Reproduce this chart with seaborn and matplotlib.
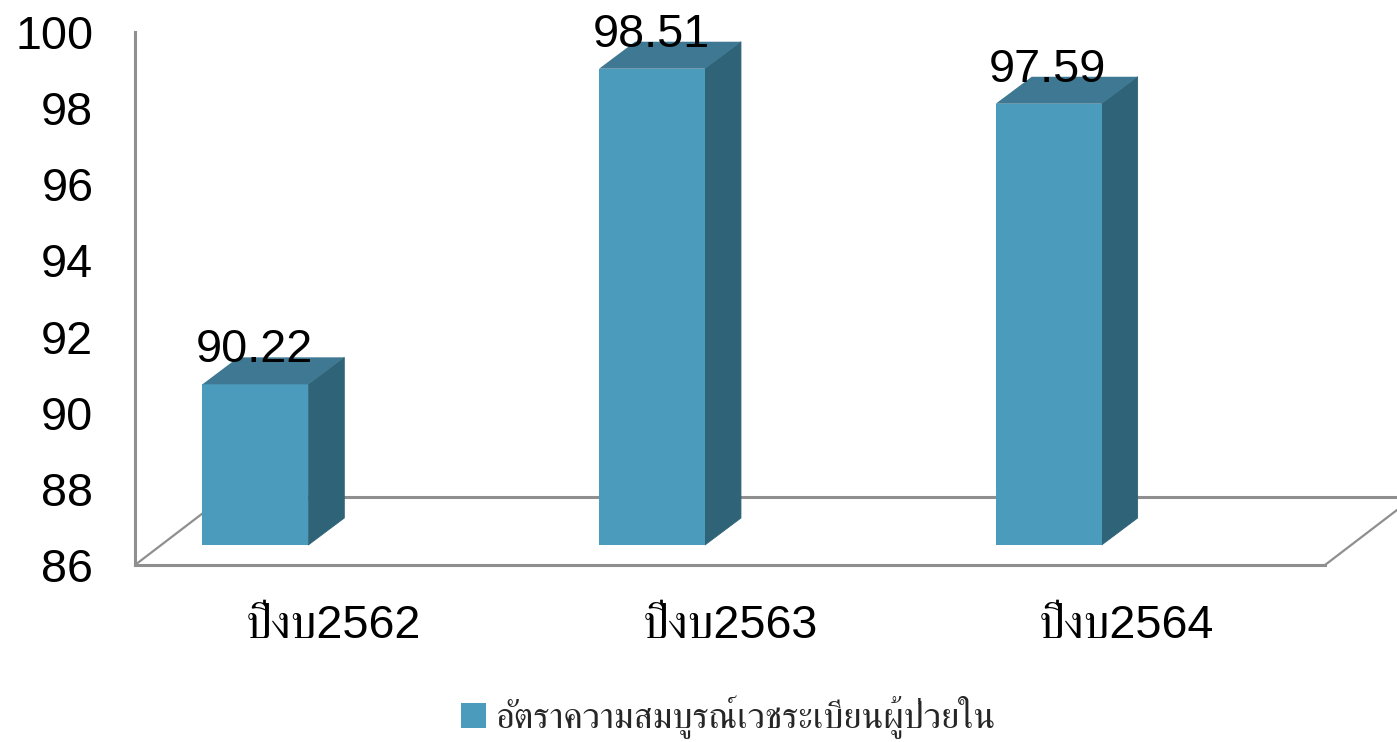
import matplotlib
matplotlib.use("Agg")
import matplotlib.pyplot as plt
from matplotlib.transforms import Affine2D
import pandas as pd
import seaborn as sns

categories = ["ปีงบ2562", "ปีงบ2563", "ปีงบ2564"]
values = [90.22, 98.51, 97.59]
value_labels = ["90.22", "98.51", "97.59"]
series_name = "อัตราความสมบูรณ์เวชระเบียนผู้ป่วยใน"
y_ticks = [86, 88, 90, 92, 94, 96, 98, 100]

FRONT, SIDE, TOP, GREY = "#4B9BBD", "#2E6378", "#3E7892", "#8F8F8F"
FONTS = ["Liberation Sans", "FreeSerif"]
W, H = 1397, 742
BAR_W = 0.267
BASE = y_ticks[0]

sns.set_theme(style="white")
plt.rcParams["font.family"] = FONTS

fig = plt.figure(figsize=(W / 100, H / 100), dpi=100)
ax = fig.add_axes([135 / W, 1 - 565 / H, 1190 / W, 533 / H])

df = pd.DataFrame({"cat": categories, "val": values})
sns.barplot(data=df, x="cat", y="val", color=FRONT, saturation=1, width=BAR_W,
            ax=ax, label=series_name, zorder=3)
ax.set_xlim(-0.5, 2.5)
ax.set_ylim(BASE, 100)
ax.set_xlabel("")
ax.set_ylabel("")
ax.set_yticks(y_ticks)

# pixel sizes expressed in data units
px_x = 3 / 1190
px_y = 14 / 533

# front plane of the pseudo-3D scene is shifted relative to the axis plane
front = Affine2D().translate(-78, 20)
front_tr = ax.transData + front
for p in ax.patches:
    h = p.get_height()
    p.set_y(BASE)
    p.set_height(h - BASE)
    p.set_transform(front_tr)
    p.set_clip_on(False)
    p.set_linewidth(0)

dx, dy = 36 * px_x, 27 * px_y
for i, v in enumerate(values):
    xl, xr = i - BAR_W / 2, i + BAR_W / 2
    ax.fill([xr, xr + dx, xr + dx, xr], [BASE, BASE + dy, v + dy, v], color=SIDE,
            lw=0.6, transform=front_tr, clip_on=False, zorder=2.9)
    ax.fill([xl, xr, xr + dx, xl + dx], [v, v, v + dy, v + dy], color=TOP,
            lw=0, transform=front_tr, clip_on=False, zorder=3)
    ax.text(i, v, value_labels[i], ha="center", va="baseline", fontsize=33.7,
            color="black", clip_on=False, zorder=5,
            transform=front_tr + Affine2D().translate(-1, 22))

# floor
fx, fy = 89 * px_x, 68 * px_y
ax.plot([-0.5, -0.5 + fx], [BASE, BASE + fy], color=GREY, lw=1.6, clip_on=False, zorder=1)
ax.plot([2.5, 2.5 + fx], [BASE, BASE + fy], color=GREY, lw=1.6, clip_on=False, zorder=1)
ax.plot([-0.5 + fx, 2.5 + fx], [BASE + fy, BASE + fy], color=GREY, lw=2.2, clip_on=False, zorder=1)

for s in ["top", "right"]:
    ax.spines[s].set_visible(False)
for s in ["left", "bottom"]:
    ax.spines[s].set_color(GREY)
    ax.spines[s].set_linewidth(2.2)
ax.tick_params(axis="y", length=0, pad=30, labelsize=33.7, labelcolor="black")
ax.tick_params(axis="x", length=0, pad=28, labelsize=33.7, labelcolor="black")

handles, labels = ax.get_legend_handles_labels()
leg = ax.legend(handles, labels, loc="center", frameon=False, fontsize=26.2,
                bbox_to_anchor=(728.5 / W, 1 - 717 / H), bbox_transform=fig.transFigure,
                handlelength=0.69, handleheight=0.69, handletextpad=0.25,
                borderpad=0, borderaxespad=0)

fig.savefig("out.png", dpi=100, facecolor="white")
